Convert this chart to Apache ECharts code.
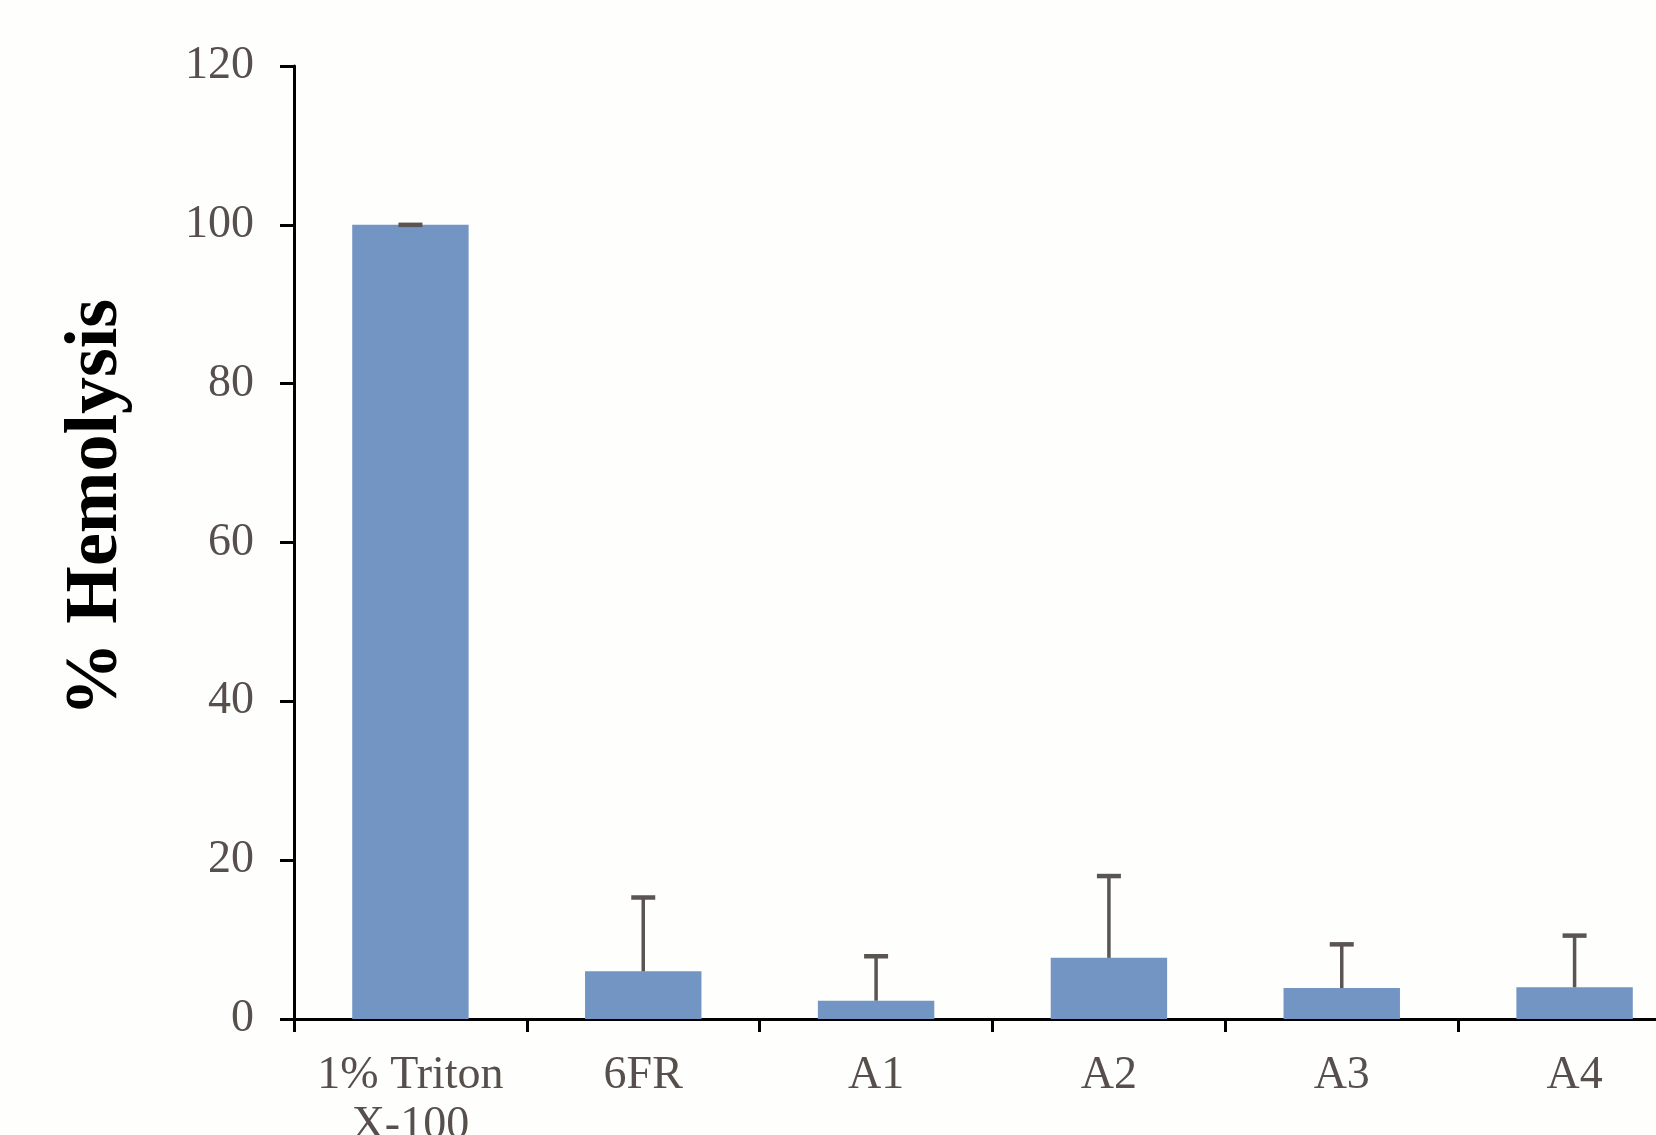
<!DOCTYPE html>
<html>
<head>
<meta charset="utf-8">
<script src="https://cdn.jsdelivr.net/npm/echarts@6/dist/echarts.min.js"></script>
<style>
html,body{margin:0;padding:0;background:#fefefc;}
#c{width:1656px;height:1135px;}
</style>
</head>
<body>
<div id="c"></div>
<script>
var categories = ['1% Triton\nX-100', '6FR', 'A1', 'A2', 'A3', 'A4'];
var hemolysis = [100, 6.0, 2.3, 7.7, 3.9, 4.0];
var errorUp = [0, 9.3, 5.6, 10.3, 5.5, 6.5];
var yTicks = {min: 0, max: 120, interval: 20};

var chart = echarts.init(document.getElementById('c'), null, {renderer: 'canvas'});
var serif = '"Liberation Serif", "Times New Roman", serif';
var option = {
  backgroundColor: '#fefefc',
  animation: false,
  grid: {left: 294, top: 66, height: 953, width: 1397, containLabel: false, outerBoundsMode: 'none'},
  xAxis: {
    type: 'category',
    data: categories,
    axisLine: {lineStyle: {color: '#000', width: 3}},
    axisTick: {show: true, length: 13, lineStyle: {color: '#000', width: 3}},
    axisLabel: {color: '#574f4c', fontFamily: serif, fontSize: 46, lineHeight: 50, margin: 32, interval: 0}
  },
  yAxis: {
    type: 'value',
    min: yTicks.min, max: yTicks.max, interval: yTicks.interval,
    name: '% Hemolysis',
    nameLocation: 'middle',
    nameRotate: 90,
    nameGap: 160,
    nameTextStyle: {color: '#000', fontFamily: serif, fontWeight: 'bold', fontSize: 74, padding: [0, 0, 0, 70]},
    axisLine: {show: true, lineStyle: {color: '#000', width: 3}},
    axisTick: {show: true, length: 14, lineStyle: {color: '#000', width: 3}},
    axisLabel: {color: '#574f4c', fontFamily: serif, fontSize: 46, margin: 40},
    splitLine: {show: false}
  },
  series: [
    {
      type: 'bar',
      data: hemolysis,
      barWidth: '50%',
      itemStyle: {color: '#7295c4'},
      z: 2
    },
    {
      type: 'custom',
      z: 3,
      data: hemolysis.map(function (v, i) { return [i, v, v + errorUp[i]]; }),
      renderItem: function (params, api) {
        var i = api.value(0);
        var base = api.coord([i, api.value(1)]);
        var top = api.coord([i, api.value(2)]);
        var half = 12;
        return {
          type: 'group',
          children: [
            {type: 'line', shape: {x1: base[0], y1: base[1], x2: top[0], y2: top[1]}, style: {stroke: '#5a5452', lineWidth: 3.5}},
            {type: 'line', shape: {x1: top[0] - half, y1: top[1], x2: top[0] + half, y2: top[1]}, style: {stroke: '#5a5452', lineWidth: 4.5}}
          ]
        };
      }
    }
  ]
};
chart.setOption(option);
</script>
</body>
</html>
